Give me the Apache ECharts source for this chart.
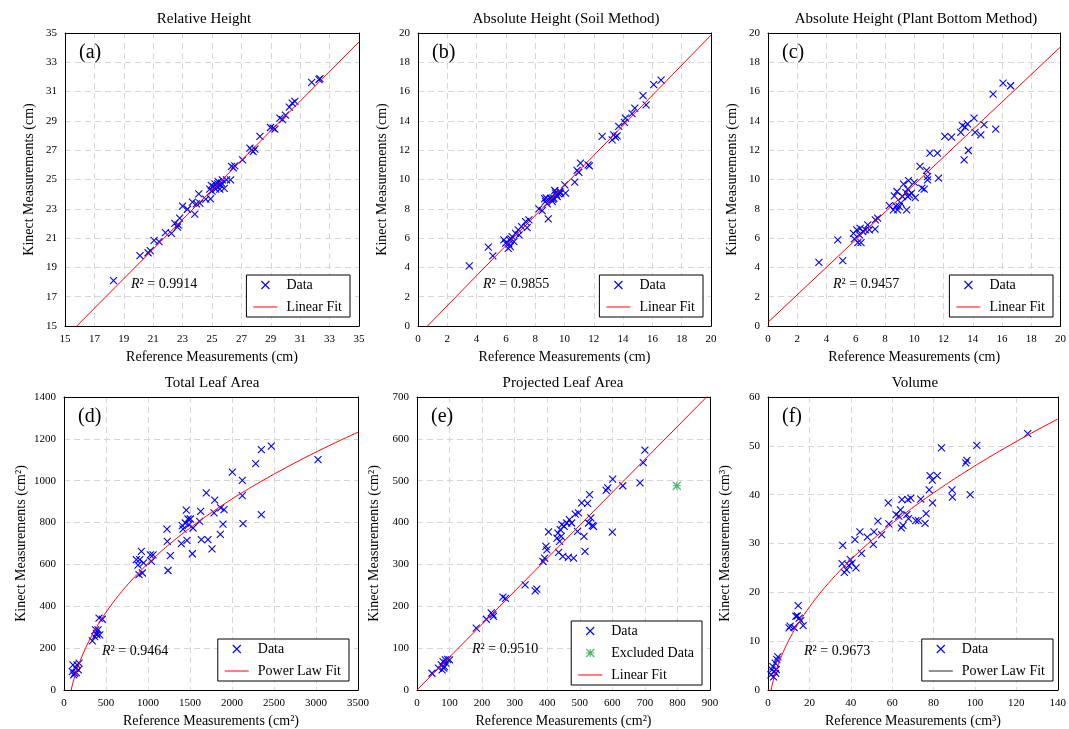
<!DOCTYPE html>
<html lang="en" style="height: 100%">
<head>
  <meta charset="utf-8">
</head>
<body style="height: 100%; margin: 0; background: #fff">
  <div id="container" style="height: 100%"></div>

  <script type="text/javascript" src="https://fastly.jsdelivr.net/npm/echarts@6/dist/echarts.min.js"></script>
  <script type="text/javascript">
// [reference, kinect] pairs
var relHeight = [
  [18.3, 18.1], [20.1, 19.8], [20.65, 20.0], [20.8, 20.15], [21.06, 20.85], [21.4, 20.76],
  [21.83, 21.38], [22.24, 21.33], [22.47, 22.0], [22.7, 21.9], [22.65, 21.75], [22.8, 22.36],
  [23.0, 23.18], [23.33, 22.97], [23.67, 23.45], [23.83, 22.63], [23.94, 23.34], [24.1, 24.02],
  [24.17, 23.38], [24.58, 23.66], [24.9, 23.68], [24.85, 24.34], [25.1, 24.5], [25.2, 24.7],
  [25.3, 24.52], [25.42, 24.86], [25.53, 24.34], [25.7, 24.98], [25.6, 24.6], [25.83, 24.4],
  [25.99, 24.98], [26.26, 24.98], [26.33, 25.9], [26.45, 25.8], [26.55, 25.93], [27.08, 26.34],
  [27.58, 27.14], [27.7, 27.0], [27.8, 26.9], [27.92, 27.07], [28.26, 27.94], [28.98, 28.55],
  [29.16, 28.5], [29.28, 28.44], [29.62, 29.19], [29.8, 29.08], [30.0, 29.4], [30.26, 29.94],
  [30.46, 30.22], [30.64, 30.33], [31.78, 31.63], [32.28, 31.81], [32.34, 31.88],
  [25.0, 24.2], [25.4, 24.7], [25.25, 24.35], [24.95, 24.6], [25.65, 24.75]
];
var soilHeight = [
  [3.5, 4.1], [4.8, 5.38], [5.11, 4.78], [5.86, 5.88], [5.98, 5.65], [6.16, 5.3], [6.25, 5.88],
  [6.3, 5.42], [6.43, 6.1], [6.55, 5.76], [6.66, 6.33], [6.84, 6.56], [6.9, 6.22], [7.07, 6.79],
  [7.34, 7.13], [7.45, 6.72], [7.57, 7.24], [8.25, 8.0], [8.48, 7.88], [8.64, 8.7], [8.7, 8.5],
  [8.82, 8.34], [8.89, 7.31], [9.05, 8.72], [9.16, 8.5], [9.27, 8.72], [9.34, 9.25], [9.39, 9.07],
  [9.5, 8.84], [9.61, 9.02], [9.68, 9.18], [10.02, 9.64], [9.73, 9.07], [10.07, 9.07], [10.7, 9.82],
  [10.86, 10.62], [10.98, 10.48], [11.09, 11.12], [11.61, 11.0], [11.7, 10.93], [12.57, 12.94],
  [13.25, 12.71], [13.36, 13.05], [13.48, 12.89], [13.59, 12.98], [13.7, 13.62], [14.09, 13.9],
  [14.16, 14.19], [14.61, 14.49], [14.8, 14.87], [15.36, 15.72], [15.57, 15.1], [16.09, 16.47],
  [16.59, 16.79], [6.2, 5.6], [6.35, 5.95], [9.2, 8.65], [9.45, 8.95], [8.75, 8.75]
];
var bottomHeight = [
  [3.48, 4.35], [4.77, 5.88], [5.11, 4.46], [5.84, 6.33], [5.91, 5.95], [6.07, 6.56], [6.14, 5.69],
  [6.25, 6.22], [6.3, 6.67], [6.36, 5.69], [6.48, 6.45], [6.66, 6.56], [6.82, 6.9], [6.93, 6.56],
  [7.32, 6.61], [7.34, 7.24], [7.5, 7.36], [8.3, 8.22], [8.57, 7.93], [8.64, 8.88], [8.75, 8.2],
  [8.82, 9.18], [8.86, 7.93], [8.98, 8.15], [9.09, 8.38], [9.2, 8.84], [9.27, 9.68], [9.43, 9.11],
  [9.55, 9.34], [9.55, 8.84], [9.48, 7.93], [9.61, 9.93], [9.66, 8.95], [9.82, 9.07], [10.0, 9.8],
  [10.07, 8.77], [10.39, 10.89], [10.52, 9.41], [10.68, 9.34], [10.84, 10.62], [10.91, 10.2],
  [10.91, 9.98], [11.07, 11.8], [11.59, 11.8], [11.66, 10.09], [12.09, 12.94], [12.55, 12.89],
  [13.18, 13.21], [13.3, 13.67], [13.41, 11.34], [13.48, 13.58], [13.64, 13.8], [13.7, 11.98],
  [14.09, 14.19], [14.16, 13.21], [14.55, 13.05], [14.77, 13.74], [15.57, 13.44], [15.39, 15.83],
  [16.07, 16.58], [16.59, 16.4]
];
var totalLeaf = [
  [99, 88], [115, 72], [139, 104], [155, 120], [171, 96], [127, 80], [179, 128], [107, 120], [147, 83],
  [337, 235], [365, 255], [385, 271], [405, 287], [377, 287], [425, 263], [417, 343], [456, 338], [393, 263],
  [861, 623], [901, 623], [921, 662], [893, 551], [933, 559], [948, 607], [881, 597], [1028, 646],
  [1060, 646], [1040, 615], [1226, 769], [1230, 710], [1238, 571], [1266, 642], [1397, 699], [1409, 785],
  [1417, 769], [1444, 798], [1456, 859], [1464, 715], [1476, 817], [1488, 790], [1504, 817], [1528, 651],
  [1536, 774], [1615, 806], [1627, 853], [1635, 718], [1714, 718], [1694, 942], [1762, 674], [1786, 846],
  [1794, 907], [1861, 744], [1865, 870], [1893, 793], [1905, 862], [2004, 1041], [2123, 1002],
  [2123, 929], [2131, 795], [2282, 1082], [2349, 1149], [2349, 838], [2468, 1165], [3024, 1101]
];
var projLeaf = [
  [46, 40], [66, 52], [75, 60], [80, 68], [84, 56], [89, 64], [94, 73], [77, 48], [100, 72], [87, 72], [82, 52],
  [182, 148], [213, 169], [228, 184], [233, 180], [235, 176], [264, 222], [272, 219], [332, 251],
  [363, 237], [368, 241], [387, 307], [392, 315], [396, 343], [399, 335], [404, 378], [430, 363],
  [433, 375], [435, 329], [438, 355], [440, 383], [443, 367], [445, 395], [448, 319], [452, 391],
  [460, 399], [465, 317], [468, 407], [481, 315], [475, 399], [486, 420], [496, 423], [493, 379],
  [506, 447], [513, 367], [516, 331], [524, 446], [530, 467], [527, 399], [534, 411], [539, 393],
  [542, 391], [581, 477], [586, 483], [601, 504], [600, 377], [632, 488], [685, 495], [695, 543],
  [700, 573]
];
var projExcluded = [[798, 488]];
var volume = [
  [1.4, 3.1], [2.4, 4.8], [3.0, 3.8], [3.5, 5.5], [4.0, 4.2], [4.3, 6.2], [4.8, 6.8], [2.7, 2.7],
  [3.7, 3.4], [1.9, 4.1], [10.2, 12.7], [10.7, 13.1], [12.6, 12.8], [13.5, 15.1], [14.2, 15.2],
  [14.6, 17.3], [15.1, 14.7], [15.8, 14.2], [17.0, 13.2], [36.1, 29.6], [35.8, 25.9], [36.9, 24.1],
  [38.0, 24.6], [39.0, 25.5], [39.8, 26.7], [40.6, 26.0], [42.0, 30.8], [42.5, 25.0], [44.4, 32.4],
  [45.2, 28.0], [48.0, 31.3], [50.9, 29.8], [51.2, 32.4], [53.1, 34.6], [54.9, 31.8], [58.1, 38.3],
  [58.4, 34.0], [61.9, 35.9], [63.2, 35.6], [64.0, 36.9], [64.4, 33.2], [64.7, 39.0], [65.2, 33.7],
  [67.1, 35.9], [67.6, 39.0], [67.9, 35.1], [69.0, 39.3], [71.4, 34.7], [72.7, 34.7], [73.8, 39.1],
  [75.9, 34.1], [76.4, 36.1], [77.9, 41.0], [78.3, 43.9], [79.4, 43.0], [79.5, 38.3], [81.8, 43.9],
  [83.8, 49.6], [88.9, 41.0], [89.1, 39.5], [95.5, 46.5], [96.1, 47.0], [97.7, 40.0], [100.9, 50.1],
  [125.5, 52.5]
];

// fitted curves: linear [slope, intercept], power law [a, b, c] for y = a*x^b + c
var fitA = [1.01, -0.96];
var fitB = [1.026, -0.667];
var fitC = [0.94, 0.25];
var fitD = [60.84, 0.4, -359.6];
var fitE = [0.787, 0];
var fitF = [5.23, 0.5, -6.4];

var r2 = ['0.9914', '0.9855', '0.9457', '0.9464', '0.9510', '0.9673'];

function linePts(c, x0, x1) {
  return [[x0, c[0] * x0 + c[1]], [x1, c[0] * x1 + c[1]]];
}
function powerPts(c, x0, x1) {
  var pts = [];
  for (var i = 0; i <= 150; i++) {
    var t = i / 150;
    var x = x0 + (x1 - x0) * t * t;
    pts.push([x, c[0] * Math.pow(x, c[1]) + c[2]]);
  }
  return pts;
}

var FONT = '"Liberation Serif", "Times New Roman", serif';
var CROSS = 'path://M0,0L10,10M10,0L0,10';
var STAR = 'path://M0,0L10,10M10,0L0,10M5,0L5,10M0,5L10,5';
var LINE_ICON = 'path://M0,0L24,0L24,1L0,1Z';

var panels = [
  { grid: { left: 65, top: 33, width: 294, height: 293 }, x: [15, 35, 2], y: [15, 35, 2],
    xName: 'Reference Measurements (cm)', yName: 'Kinect Measurements (cm)',
    title: 'Relative Height', tx: 204, label: '(a)',
    data: relHeight, fitName: 'Linear Fit', fit: linePts(fitA, 15, 35),
    legend: { right: 719, top: 275 } },
  { grid: { left: 418, top: 33, width: 293, height: 293 }, x: [0, 20, 2], y: [0, 20, 2],
    xName: 'Reference Measurements (cm)', yName: 'Kinect Measurements (cm)',
    title: 'Absolute Height (Soil Method)', tx: 566, label: '(b)',
    data: soilHeight, fitName: 'Linear Fit', fit: linePts(fitB, 0, 20),
    legend: { right: 366, top: 275 } },
  { grid: { left: 768, top: 33, width: 293, height: 293 }, x: [0, 20, 2], y: [0, 20, 2],
    xName: 'Reference Measurements (cm)', yName: 'Kinect Measurements (cm)',
    title: 'Absolute Height (Plant Bottom Method)', tx: 916, label: '(c)',
    data: bottomHeight, fitName: 'Linear Fit', fit: linePts(fitC, 0, 20),
    legend: { right: 16, top: 275 } },
  { grid: { left: 64, top: 397, width: 294, height: 293 }, x: [0, 3500, 500], y: [0, 1400, 200],
    xName: 'Reference Measurements (cm²)', yName: 'Kinect Measurements (cm²)',
    title: 'Total Leaf Area', tx: 212, label: '(d)',
    data: totalLeaf, fitName: 'Power Law Fit', fit: powerPts(fitD, 85, 3500),
    legend: { right: 720, top: 639 } },
  { grid: { left: 417, top: 397, width: 293, height: 293 }, x: [0, 900, 100], y: [0, 700, 100],
    xName: 'Reference Measurements (cm²)', yName: 'Kinect Measurements (cm²)',
    title: 'Projected Leaf Area', tx: 563, label: '(e)',
    data: projLeaf, excluded: projExcluded, fitName: 'Linear Fit', fit: linePts(fitE, 0, 900),
    legend: { right: 367, top: 621 } },
  { grid: { left: 768, top: 397, width: 293, height: 293 }, x: [0, 140, 20], y: [0, 60, 10],
    xName: 'Reference Measurements (cm³)', yName: 'Kinect Measurements (cm³)',
    title: 'Volume', tx: 915, label: '(f)',
    data: volume, fitName: 'Power Law Fit', fit: powerPts(fitF, 1.5, 140),
    legend: { right: 16, top: 639 }, legendLineColor: '#222' }
];

var splitLine = { show: true, showMinLine: false, showMaxLine: false,
  lineStyle: { color: '#d6d6d6', type: [6, 4], width: 1 } };
var axisLabel = { fontFamily: FONT, fontSize: 11, color: '#000', margin: 8,
  formatter: function (v) { return String(v); } };
var frameLine = { show: true, onZero: false, lineStyle: { color: '#000', width: 1 } };

var grids = [], xAxes = [], yAxes = [], series = [], legends = [], graphics = [];

panels.forEach(function (p, i) {
  grids.push(Object.assign({ show: false }, p.grid));
  xAxes.push({
    gridIndex: i, type: 'value', min: p.x[0], max: p.x[1], interval: p.x[2],
    name: p.xName, nameLocation: 'middle', nameGap: 24,
    nameTextStyle: { fontFamily: FONT, fontSize: 14, color: '#000' },
    axisLine: frameLine, axisTick: { show: false },
    axisLabel: axisLabel, splitLine: splitLine
  });
  // top edge of the frame
  xAxes.push({
    gridIndex: i, type: 'value', position: 'top', min: p.x[0], max: p.x[1], interval: p.x[2],
    axisLine: frameLine, axisTick: { show: false }, axisLabel: { show: false }, splitLine: { show: false }
  });
  yAxes.push({
    gridIndex: i, type: 'value', min: p.y[0], max: p.y[1], interval: p.y[2],
    name: p.yName, nameLocation: 'middle', nameGap: i > 2 ? 36 : 29,
    nameTextStyle: { fontFamily: FONT, fontSize: 14, color: '#000' },
    axisLine: frameLine, axisTick: { show: false },
    axisLabel: axisLabel, splitLine: splitLine
  });
  // right edge of the frame
  yAxes.push({
    gridIndex: i, type: 'value', position: 'right', min: p.y[0], max: p.y[1], interval: p.y[2],
    axisLine: frameLine, axisTick: { show: false }, axisLabel: { show: false }, splitLine: { show: false }
  });
  series.push({
    name: 'Data', type: 'scatter', xAxisIndex: 2 * i, yAxisIndex: 2 * i,
    symbol: CROSS, symbolSize: 7, data: p.data,
    itemStyle: { color: '#0000ff', borderColor: '#0000ff', borderWidth: 1.1, opacity: 1 }
  });
  var legendData = [{ name: 'Data', icon: CROSS, itemStyle: { borderWidth: 1.1 } }];
  if (p.excluded) {
    series.push({
      name: 'Excluded Data', type: 'scatter', xAxisIndex: 2 * i, yAxisIndex: 2 * i,
      symbol: STAR, symbolSize: 8, data: p.excluded,
      itemStyle: { color: '#1aa34a', borderColor: '#1aa34a', borderWidth: 1.1 }
    });
    legendData.push({ name: 'Excluded Data', icon: STAR, itemStyle: { borderWidth: 1.1 } });
  }
  series.push({
    name: p.fitName, type: 'line', xAxisIndex: 2 * i, yAxisIndex: 2 * i,
    data: p.fit, showSymbol: false, symbol: 'none', clip: true,
    lineStyle: { color: '#ff0000', width: 1 }, itemStyle: { color: '#ff0000' }, z: 3
  });
  var lineColor = p.legendLineColor || '#ff0000';
  legendData.push({ name: p.fitName, icon: LINE_ICON,
    itemStyle: { color: lineColor, borderColor: lineColor, borderWidth: 0 } });
  legends.push({
    orient: 'vertical', right: p.legend.right, top: p.legend.top,
    data: legendData, itemWidth: 24, itemHeight: 8, itemGap: 8,
    padding: [3, 8, 3, 7], borderColor: '#000', borderWidth: 1, backgroundColor: '#fff',
    selectedMode: false,
    textStyle: { fontFamily: FONT, fontSize: 14, color: '#000', padding: [0, 0, 0, 4] }
  });

  graphics.push({
    type: 'text', x: p.tx, y: p.grid.top - 14, z: 10,
    style: { text: p.title, font: '15px ' + FONT, fill: '#000', textAlign: 'center', textVerticalAlign: 'middle' }
  });
  graphics.push({
    type: 'text', x: p.grid.left + 14, y: p.grid.top + 20, z: 10,
    style: { text: p.label, font: '20px ' + FONT, fill: '#000', textAlign: 'left', textVerticalAlign: 'middle' }
  });
});

// R² annotations
var r2Pos = [[131, 284], [483, 284], [833, 284], [102, 651], [472, 649], [804, 651]];
r2Pos.forEach(function (pos, i) {
  graphics.push({
    type: 'text', x: pos[0], y: pos[1], z: 10,
    style: {
      text: '{i|R}² = ' + r2[i],
      font: '14px ' + FONT, fill: '#000', textAlign: 'left', textVerticalAlign: 'middle',
      rich: { i: { fontStyle: 'italic', fontFamily: FONT, fontSize: 14 } }
    }
  });
});

var dom = document.getElementById('container');
var myChart = echarts.init(dom, null, { renderer: 'canvas' });
var option = {
  backgroundColor: '#fff',
  animation: false,
  textStyle: { fontFamily: FONT },
  grid: grids,
  xAxis: xAxes,
  yAxis: yAxes,
  legend: legends,
  series: series,
  graphic: graphics
};
myChart.setOption(option);
window.addEventListener('resize', myChart.resize);
  </script>
</body>
</html>
